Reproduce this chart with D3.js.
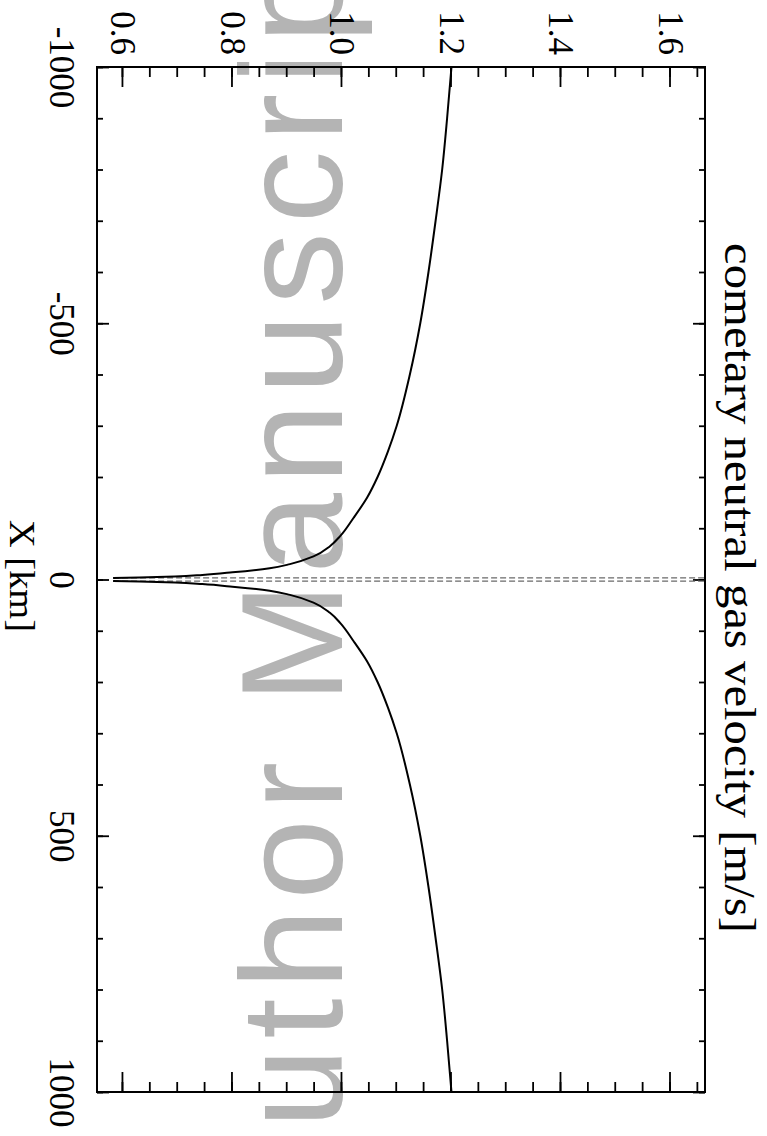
<!DOCTYPE html>
<html>
<head>
<meta charset="utf-8">
<script src="https://cdn.jsdelivr.net/npm/d3@7"></script>
<style>
  body { margin: 0; background: #fff; }
  svg { display: block; }
</style>
</head>
<body>
<div class="chart"></div>
<script>
// distance from nucleus [km] and cometary neutral gas velocity [m/s]
var xLeft  = [-1000, -900, -800, -700, -600, -500, -400, -300, -250, -200, -160, -120, -85, -65, -45, -30, -22, -14, -9, -6, -4, -3];
var vLeft  = [1.200, 1.192, 1.183, 1.171, 1.158, 1.143, 1.124, 1.100, 1.084, 1.065, 1.046, 1.021, 0.997, 0.978, 0.948, 0.905, 0.868, 0.800, 0.745, 0.695, 0.630, 0.582];
var xRight = [3, 4, 6, 9, 14, 22, 30, 45, 65, 85, 120, 160, 200, 250, 300, 400, 500, 600, 700, 800, 900, 1000];
var vRight = [0.582, 0.630, 0.695, 0.745, 0.800, 0.868, 0.905, 0.948, 0.978, 0.997, 1.021, 1.046, 1.065, 1.084, 1.100, 1.124, 1.143, 1.158, 1.171, 1.183, 1.192, 1.200];

// nucleus edge, drawn as dashed lines
var nucleusEdge = [-3, 3];

var xMajor = [-1000, -500, 0, 500, 1000];
var xMinor = d3.range(-1000, 1001, 100);
var vMajor = [0.6, 0.8, 1.0, 1.2, 1.4, 1.6];
var vMinor = [0.6, 0.65, 0.7, 0.75, 0.8, 0.85, 0.9, 0.95, 1.0, 1.05, 1.1, 1.15, 1.2, 1.25, 1.3, 1.35, 1.4, 1.45, 1.5, 1.55, 1.6, 1.65];

var W = 767, H = 1136;
var serif = '"Liberation Serif", "Times New Roman", serif';

var svg = d3.select('.chart').append('svg')
    .attr('width', W)
    .attr('height', H);

// watermark, behind everything
svg.append('text')
    .attr('class', 'watermark')
    .attr('transform', 'translate(342,1234) rotate(-90)')
    .attr('font-family', '"Liberation Sans", Arial, sans-serif')
    .attr('font-size', 145)
    .attr('letter-spacing', 9)
    .style('fill', '#b4b4b4')
    .text('Author Manuscript');

// the plot is laid out landscape and turned a quarter clockwise
var g = svg.append('g')
    .attr('transform', 'translate(' + W + ',0) rotate(90)');

var x = d3.scaleLinear().domain([-1000, 1000]).range([67, 1092]);
var y = d3.scaleLinear().domain([0.5526, 1.663]).range([670, 62]);

var x0 = x.range()[0], x1 = x.range()[1];
var y0 = y.range()[0], y1 = y.range()[1];

function tidy(sel) {
    sel.select('.domain').remove();
    sel.selectAll('.tick line').attr('stroke', '#000').attr('stroke-width', 1.8);
    sel.selectAll('text').attr('font-family', serif).attr('font-size', 35).attr('fill', '#000');
}

// minor ticks on all four sides
g.append('g').attr('transform', 'translate(0,' + y0 + ')')
    .call(d3.axisBottom(x).tickValues(xMinor).tickSize(-6).tickFormat('')).call(tidy);
g.append('g').attr('transform', 'translate(0,' + y1 + ')')
    .call(d3.axisTop(x).tickValues(xMinor).tickSize(-6).tickFormat('')).call(tidy);
g.append('g').attr('transform', 'translate(' + x0 + ',0)')
    .call(d3.axisLeft(y).tickValues(vMinor).tickSize(-10).tickFormat('')).call(tidy);
g.append('g').attr('transform', 'translate(' + x1 + ',0)')
    .call(d3.axisRight(y).tickValues(vMinor).tickSize(-10).tickFormat('')).call(tidy);

// major ticks + labels
g.append('g').attr('transform', 'translate(0,' + y0 + ')')
    .call(d3.axisBottom(x).tickValues(xMajor).tickSize(-12).tickPadding(22)
        .tickFormat(function(d) { return String(d); }))
    .call(tidy);
g.append('g').attr('transform', 'translate(0,' + y1 + ')')
    .call(d3.axisTop(x).tickValues(xMajor).tickSize(-12).tickFormat('')).call(tidy);
g.append('g').attr('transform', 'translate(' + x0 + ',0)')
    .call(d3.axisLeft(y).tickValues(vMajor).tickSize(-20).tickPadding(12).tickFormat(d3.format('.1f')))
    .call(tidy);
g.append('g').attr('transform', 'translate(' + x1 + ',0)')
    .call(d3.axisRight(y).tickValues(vMajor).tickSize(-20).tickFormat('')).call(tidy);

// nucleus edge
g.selectAll('.edge')
    .data(nucleusEdge)
  .enter().append('line')
    .attr('class', 'edge')
    .attr('x1', function(d) { return x(d); })
    .attr('x2', function(d) { return x(d); })
    .attr('y1', y(vLeft[vLeft.length - 1]))
    .attr('y2', y1)
    .attr('stroke', '#6a6a6a')
    .attr('stroke-width', 1.3)
    .attr('stroke-dasharray', '6,3');

var line = d3.line()
    .x(function(d) { return x(d[0]); })
    .y(function(d) { return y(d[1]); })
    .curve(d3.curveMonotoneX);

var branches = [d3.zip(xLeft, vLeft), d3.zip(xRight, vRight)];

g.selectAll('.branch')
    .data(branches)
  .enter().append('path')
    .attr('class', 'branch')
    .attr('d', line)
    .attr('fill', 'none')
    .attr('stroke', '#000')
    .attr('stroke-width', 2);

// frame
g.append('rect')
    .attr('x', x0).attr('y', y1)
    .attr('width', x1 - x0).attr('height', y0 - y1)
    .attr('fill', 'none')
    .attr('stroke', '#000')
    .attr('stroke-width', 2);

// axis titles
g.append('text')
    .attr('x', 576).attr('y', 757)
    .attr('text-anchor', 'middle')
    .attr('font-family', serif).attr('font-size', 35)
    .attr('textLength', 112).attr('lengthAdjust', 'spacingAndGlyphs')
    .text('X [km]');

g.append('text')
    .attr('x', 588).attr('y', 42)
    .attr('text-anchor', 'middle')
    .attr('font-family', serif).attr('font-size', 44)
    .attr('textLength', 690).attr('lengthAdjust', 'spacingAndGlyphs')
    .text('cometary neutral gas velocity [m/s]');
</script>
</body>
</html>
